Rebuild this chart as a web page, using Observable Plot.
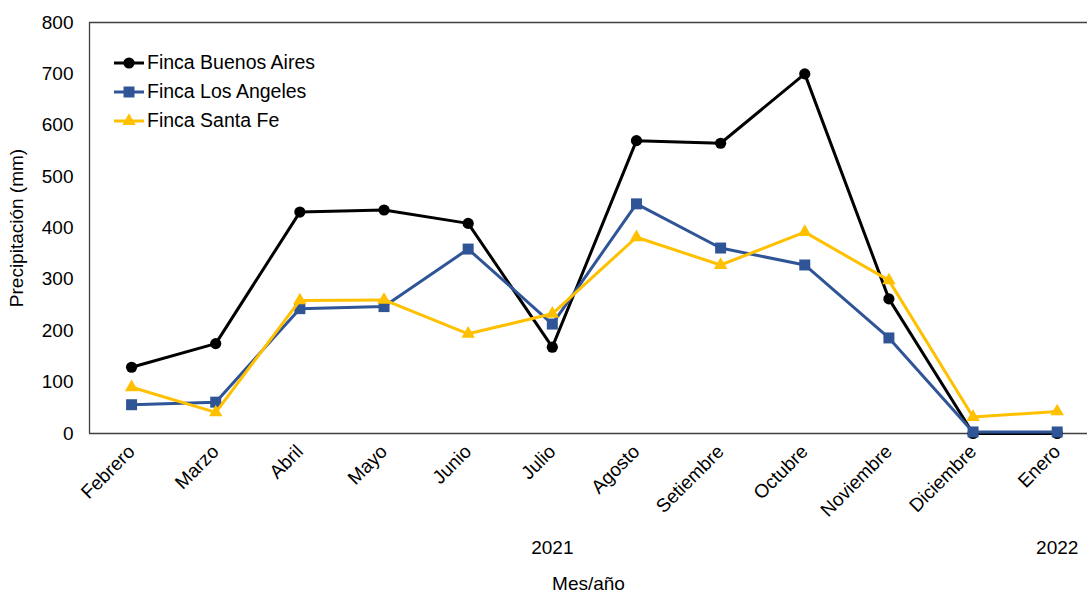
<!DOCTYPE html>
<html>
<head>
<meta charset="utf-8">
<script src="https://cdn.jsdelivr.net/npm/d3@7"></script>
<script src="https://cdn.jsdelivr.net/npm/@observablehq/plot@0.6"></script>
<style>
  html, body { margin: 0; padding: 0; background: #fff; overflow: hidden; }
  #chart { position: relative; width: 1087px; height: 596px; font-family: "Liberation Sans", Arial, sans-serif; }
  #legend { position: absolute; left: 114px; top: 48px; }
  #legend .row { display: flex; align-items: center; height: 29px; font-size: 19.5px; color: #000; }
  #legend svg { display: block; margin-right: 3px; }
</style>
</head>
<body>
<div id="chart"><div id="legend"></div></div>
<script>
// Monthly rainfall (mm), February 2021 to January 2022
const months = ["Febrero", "Marzo", "Abril", "Mayo", "Junio", "Julio", "Agosto",
  "Setiembre", "Octubre", "Noviembre", "Diciembre", "Enero"];
const monthYear = ["2021", "2021", "2021", "2021", "2021", "2021", "2021",
  "2021", "2021", "2021", "2021", "2022"];

const seriesNames = ["Finca Buenos Aires", "Finca Los Angeles", "Finca Santa Fe"];
const buenosAires = [129, 175, 431, 435, 409, 168, 570, 565, 700, 262, 0, 0];
const losAngeles  = [56, 61, 243, 247, 359, 213, 447, 361, 328, 186, 3, 3];
const santaFe     = [90, 41, 259, 260, 194, 233, 382, 328, 392, 298, 32, 43];

const yTicks = [0, 100, 200, 300, 400, 500, 600, 700, 800];

const styles = [
  {color: "#000000", symbol: "circle", r: 5.6},
  {color: "#2F5597", symbol: "square", r: 6.2},
  {color: "#FFC000", symbol: "triangle", r: 5}
];

const seriesValues = [buenosAires, losAngeles, santaFe];
const rows = seriesNames.flatMap((name, s) =>
  seriesValues[s].map((v, i) => ({series: name, s, i, month: months[i], value: v})));

// one label per year, centred under its months
const years = Array.from(new Set(monthYear));
const yearLabels = years.map(y => {
  const idx = monthYear.map((m, i) => m === y ? i : null).filter(i => i !== null);
  return {year: y, i: d3.mean(idx)};
});

const seriesMarks = seriesNames.flatMap((name, s) => {
  const data = rows.filter(d => d.s === s);
  return [
    Plot.line(data, {x: "i", y: "value", stroke: styles[s].color, strokeWidth: 3}),
    Plot.dot(data, {x: "i", y: "value", symbol: () => styles[s].symbol, r: styles[s].r,
      fill: styles[s].color, stroke: "none"})
  ];
});

const plot = Plot.plot({
  width: 1087,
  height: 596,
  marginLeft: 89,
  marginRight: 0,
  marginTop: 22,
  marginBottom: 163,
  style: {fontFamily: "'Liberation Sans', Arial, sans-serif", fontSize: "19px", color: "#000", background: "#fff"},
  x: {domain: [-0.5, 11.36]},
  y: {domain: [0, 800]},
  symbol: {type: "identity"},
  marks: [
    Plot.ruleY([0, 800], {stroke: "#404040", strokeWidth: 1.3}),
    Plot.ruleX([-0.5], {stroke: "#404040", strokeWidth: 1.3}),
    Plot.axisY({ticks: yTicks, tickSize: 0, tickPadding: 16, fontSize: 19,
      label: "Precipitación (mm)", labelAnchor: "center", labelArrow: "none", labelOffset: 80}),
    Plot.axisX({ticks: d3.range(months.length), tickFormat: i => months[i], tickRotate: -45,
      tickSize: 0, tickPadding: 15, fontSize: 19,
      label: "Mes/año", labelAnchor: "center", labelArrow: "none", labelOffset: 156}),
    Plot.text(yearLabels, {x: "i", text: "year", frameAnchor: "bottom", dy: 120, fontSize: 19}),
    ...seriesMarks
  ]
});

document.getElementById("chart").prepend(plot);

// legend inside the plotting area
const legend = d3.select("#legend");
seriesNames.forEach((name, s) => {
  const row = legend.append("div").attr("class", "row");
  const svg = row.append("svg").attr("width", 30).attr("height", 20);
  svg.append("line").attr("x1", 0).attr("x2", 30).attr("y1", 10).attr("y2", 10)
    .attr("stroke", styles[s].color).attr("stroke-width", 3);
  const sym = {circle: d3.symbolCircle, square: d3.symbolSquare, triangle: d3.symbolTriangle}[styles[s].symbol];
  svg.append("path").attr("transform", "translate(15,10)")
    .attr("d", d3.symbol(sym, Math.PI * styles[s].r * styles[s].r)())
    .attr("fill", styles[s].color);
  row.append("span").text(name);
});
</script>
</body>
</html>
